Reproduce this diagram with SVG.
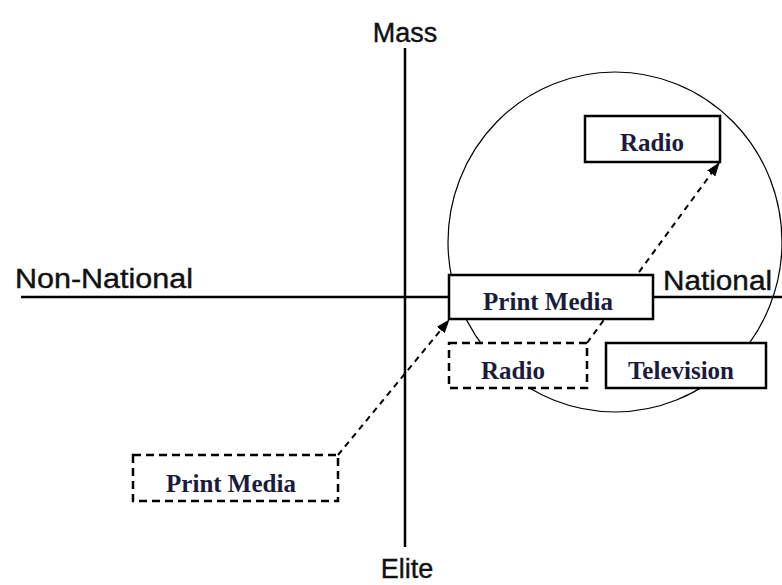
<svg xmlns="http://www.w3.org/2000/svg" width="782" height="585" viewBox="0 0 782 585">
<defs>
<style>
.axis{stroke:#000;stroke-width:2.5;fill:none}
.ax{font-family:"Liberation Sans",Arial,sans-serif;font-size:27px;fill:#111;stroke:#111;stroke-width:0.4}
.box{fill:#fff;stroke:#000;stroke-width:2.5}
.dbox{fill:#fff;stroke:#000;stroke-width:2.5;stroke-dasharray:8,5}
.lbl{font-family:"Liberation Serif","Times New Roman",serif;font-size:25px;font-weight:bold;fill:#1b1b3c;text-anchor:middle}
.conn{stroke:#000;stroke-width:2;stroke-dasharray:6,5;fill:none}
</style>
<marker id="ah" viewBox="0 0 14 10" refX="13" refY="5" markerWidth="14" markerHeight="10" markerUnits="userSpaceOnUse" orient="auto">
<path d="M0,0 L14,5 L0,10 Z" fill="#000"/>
</marker>
</defs>
<rect width="782" height="585" fill="#fff"/>
<g id="axes">
<line class="axis" x1="405" y1="48" x2="405" y2="547"/>
<line class="axis" x1="21" y1="297" x2="782" y2="297"/>
<text class="ax" x="405" y="42" text-anchor="middle">Mass</text>
<text class="ax" x="407" y="578" text-anchor="middle">Elite</text>
<text class="ax" x="15" y="288" textLength="178" lengthAdjust="spacingAndGlyphs">Non-National</text>
<text class="ax" x="663" y="290" textLength="109" lengthAdjust="spacingAndGlyphs">National</text>
</g>
<g id="circle">
<ellipse cx="615" cy="242" rx="167" ry="170" fill="none" stroke="#000" stroke-width="1.2"/>
</g>
<g id="connectors">
<line class="conn" x1="338" y1="455" x2="449" y2="320" marker-end="url(#ah)"/>
<line class="conn" x1="587" y1="343" x2="719" y2="163" marker-end="url(#ah)"/>
</g>
<g id="radio-national">
<rect class="box" x="585" y="116" width="135" height="46"/>
<text class="lbl" x="652" y="151">Radio</text>
</g>
<g id="print-national">
<rect class="box" x="449" y="275" width="204" height="44"/>
<text class="lbl" x="548" y="310">Print Media</text>
</g>
<g id="radio-old">
<rect class="dbox" x="449" y="343" width="138" height="45"/>
<text class="lbl" x="513" y="379">Radio</text>
</g>
<g id="television">
<rect class="box" x="606" y="343" width="160" height="45"/>
<text class="lbl" x="681" y="379">Television</text>
</g>
<g id="print-old">
<rect class="dbox" x="133" y="455" width="205" height="46"/>
<text class="lbl" x="231" y="492">Print Media</text>
</g>
</svg>
